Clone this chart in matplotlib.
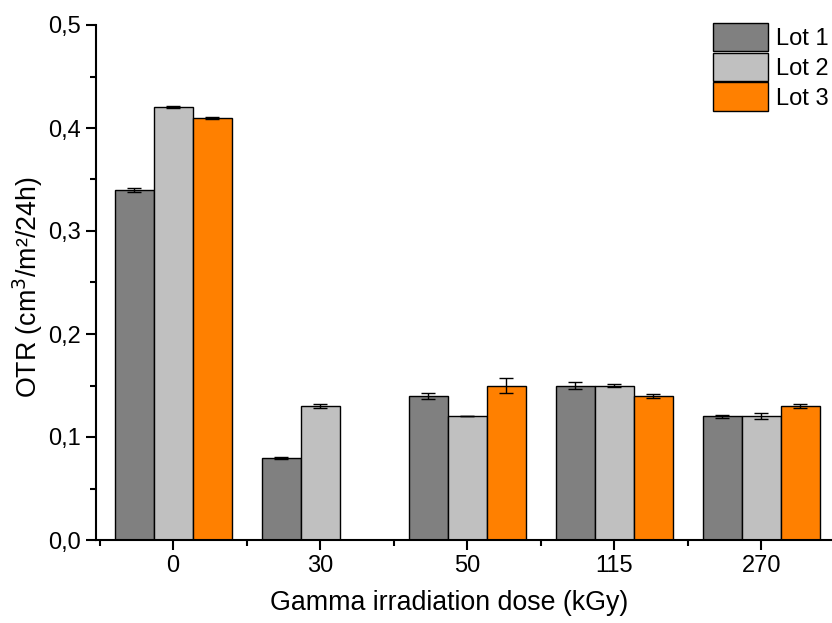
import numpy as np
import matplotlib.pyplot as plt
from matplotlib.ticker import MultipleLocator, FixedLocator, FuncFormatter

plt.rcParams['font.family'] = ['Liberation Sans', 'DejaVu Sans']

# data
doses = ["0", "30", "50", "115", "270"]
lot1 = [0.34, 0.08, 0.14, 0.15, 0.12]
lot2 = [0.42, 0.13, 0.12, 0.15, 0.12]
lot3 = [0.41, 0.0, 0.15, 0.14, 0.13]
lot1_err = [0.002, 0.001, 0.003, 0.003, 0.0015]
lot2_err = [0.001, 0.002, 0.0, 0.001, 0.003]
lot3_err = [0.001, 0.0, 0.007, 0.002, 0.002]
labels = ["Lot 1", "Lot 2", "Lot 3"]
colors = ["#808080", "#c0c0c0", "#ff8000"]

fig = plt.figure(figsize=(8.32, 6.23), dpi=100)
# axes runs past the right edge on purpose (reference is cropped)
ax = fig.add_axes([96/832, 83/623, 830/832, 515/623])

x = np.arange(len(doses))
w = 0.265
series = [(lot1, lot1_err), (lot2, lot2_err), (lot3, lot3_err)]
for i, (vals, errs) in enumerate(series):
    pos = x + (i - 1) * w
    vals = np.array(vals)
    errs = np.array(errs)
    keep = vals > 0
    ax.bar(pos[keep], vals[keep], width=w, color=colors[i], edgecolor="black",
           linewidth=1.0, label=labels[i], zorder=2)
    ax.errorbar(pos[keep], vals[keep], yerr=errs[keep], fmt="none", ecolor="black",
                elinewidth=1.0, capsize=5, capthick=1.0, zorder=3)

ax.set_xlim(-0.525, -0.525 + 830 / 147)
ax.set_ylim(0, 0.5)
ax.set_xticks(x)
ax.set_xticklabels(doses)
ax.xaxis.set_minor_locator(FixedLocator(np.arange(-0.5, 5.0, 1.0)))
ax.yaxis.set_major_locator(MultipleLocator(0.1))
ax.yaxis.set_minor_locator(MultipleLocator(0.05))
ax.yaxis.set_major_formatter(FuncFormatter(lambda v, p: f"{v:.1f}".replace(".", ",")))

for side in ["top", "right"]:
    ax.spines[side].set_visible(False)
for side in ["left", "bottom"]:
    ax.spines[side].set_linewidth(1.5)
ax.tick_params(which="major", direction="out", length=7, width=1.5, labelsize=17, pad=4)
ax.tick_params(which="minor", direction="out", length=4, width=1.5)

ax.set_xlabel("Gamma irradiation dose (kGy)", fontsize=19.3)
ax.set_ylabel("OTR (cm$^3$/m²/24h)", fontsize=19.3)
# label centres in pixels from the reference
ax.xaxis.set_label_coords((449 - 96) / 830, (540 - 603) / 515)
ax.yaxis.set_label_coords((28 - 96) / 830, (540 - 287) / 515)
ax.xaxis.label.set_va("center")
ax.yaxis.label.set_va("center")

ax.legend(loc="upper left", bbox_to_anchor=(696/832, 1 - 6/623),
          bbox_transform=fig.transFigure, frameon=False, fontsize=17,
          handlelength=2.37, handleheight=1.5, labelspacing=0.05,
          handletextpad=0.3, borderpad=0.2)

plt.savefig("out.png", dpi=100)
